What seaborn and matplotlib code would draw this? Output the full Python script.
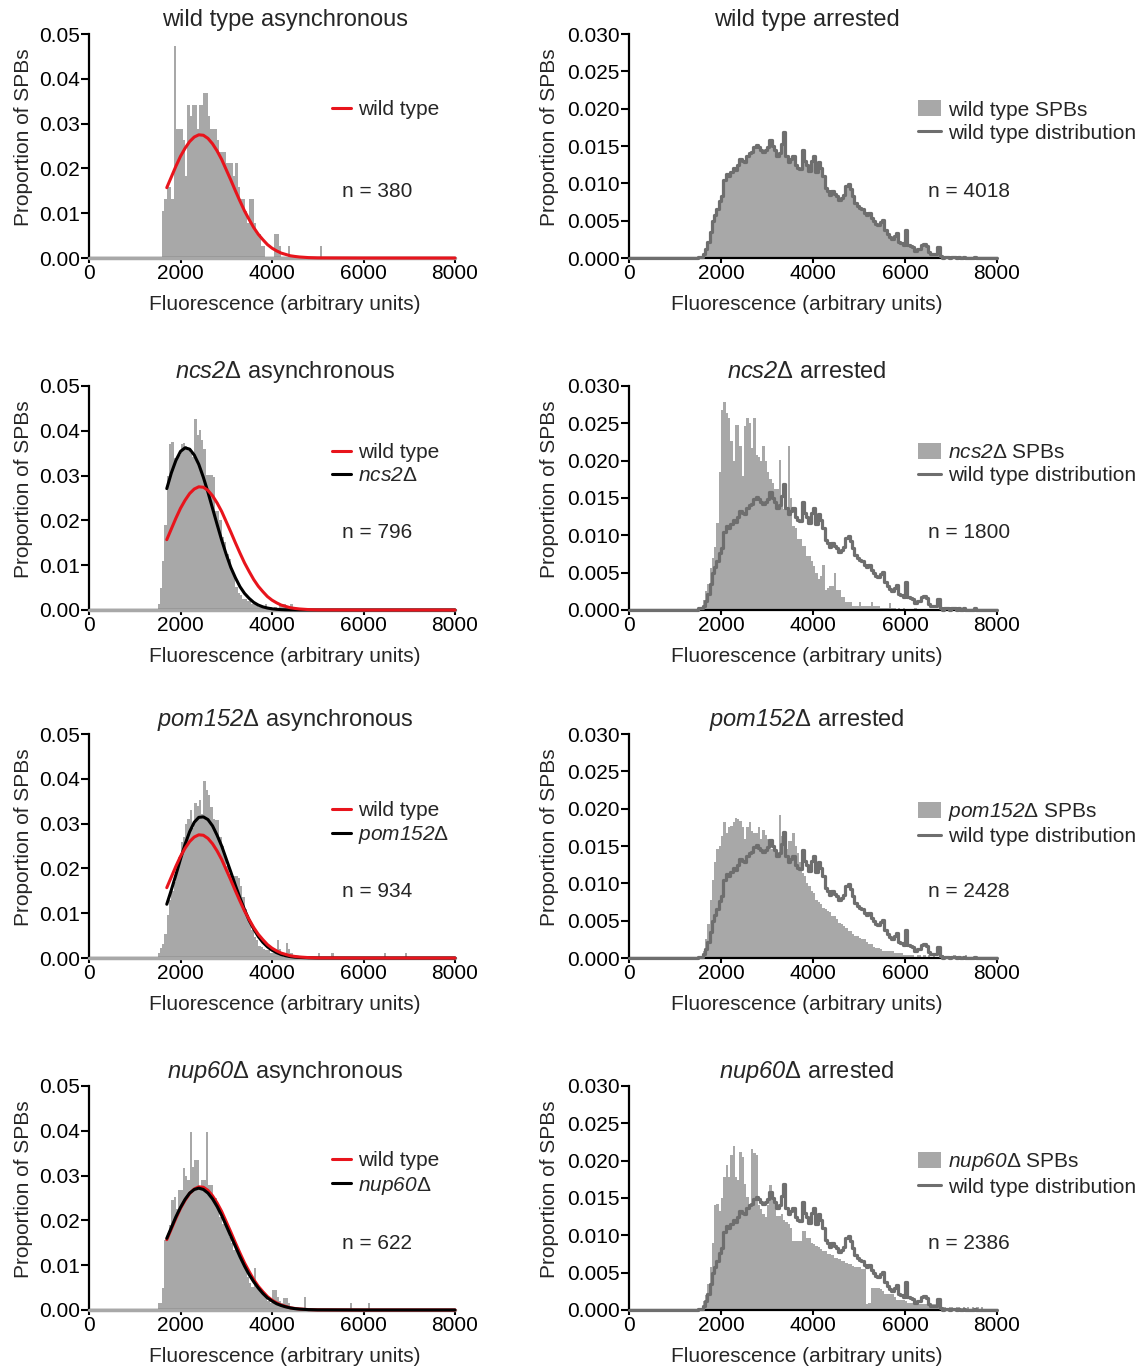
import numpy as np
import pandas as pd
import matplotlib
matplotlib.use("Agg")
import matplotlib.pyplot as plt
import matplotlib.ticker as mticker
from matplotlib.lines import Line2D
from matplotlib.patches import Patch
import seaborn as sns

# ─── data ─────────────────────────────────────────────────────────────────────
BIN_W = 50
HIST_START = 1500          # first bin of every stored histogram list

STRAINS = ["wild type", "ncs2", "pom152", "nup60"]
N_ASYNC = [380, 796, 934, 622]
N_ARREST = [4018, 1800, 2428, 2386]

# asynchronous histograms, bins 1500..4450 (proportion of SPBs per bin)
WT_ASYNC = [
    0, 0, .0105, .0132, .0158, .0158, .0132, .0474, .0289, .0289,
    .0289, .0263, .0184, .0342, .0316, .0342, .0342, .0289, .0342, .0342,
    .0368, .0368, .0316, .0289, .0289, .0289, .0263, .0237, .0237, .0237,
    .0211, .0211, .0211, .0184, .0211, .0158, .0132, .0132, .0105, .0079,
    .0132, .0132, .0079, .0053, .0053, .0026, .0026, 0, 0, 0,
    0, .0053, .0053, .0026, 0, 0, 0, .0026, 0, 0,
]
NCS2_ASYNC = [
    .0013, .0050, .0110, .0190, .0300, .0370, .0376, .0340, .0335, .0345,
    .0370, .0372, .0365, .0357, .0350, .0342, .0426, .0390, .0402, .0380,
    .0360, .0302, .0302, .0302, .0296, .0220, .0220, .0201, .0164, .0151,
    .0126, .0113, .0088, .0075, .0052, .0038, .0033, .0025, .0025, .0019,
    .0019, .0013, .0013, .0013, .0006, .0006, .0006, .0013, .0006, .0006,
    0, .0006, 0, .0013, .0013, .0013, .0006, 0, .0013, 0,
]
POM152_ASYNC = [
    .0011, .0022, .0032, .0054, .0096, .0130, .0150, .0170, .0189, .0225,
    .0260, .0270, .0300, .0310, .0330, .0290, .0345, .0340, .0353, .0321,
    .0394, .0375, .0364, .0338, .0310, .0308, .0308, .0270, .0250, .0226,
    .0205, .0188, .0174, .0182, .0182, .0178, .0160, .0137, .0110, .0096,
    .0080, .0063, .0048, .0040, .0027, .0025, .0021, .0018, .0018, .0011,
    .0011, .0011, .0040, .0021, .0011, 0, .0034, .0021, .0011, 0,
]
NUP60_ASYNC = [
    .0016, .0016, .0048, .0156, .0164, .0190, .0245, .0253, .0225, .0268,
    .0268, .0316, .0300, .0290, .0398, .0320, .0335, .0335, .0275, .0290,
    .0290, .0398, .0280, .0280, .0250, .0250, .0230, .0208, .0193, .0193,
    .0190, .0164, .0150, .0134, .0138, .0130, .0126, .0104, .0090, .0074,
    .0060, .0052, .0093, .0060, .0045, .0045, .0040, .0033, .0020, .0016,
    .0045, .0045, .0030, .0020, .0016, .0026, .0026, .0016, 0, 0,
]
# isolated outlier bins further right: (bin start, proportion)
WT_ASYNC_TAIL = [(5050, .0026)]
NCS2_ASYNC_TAIL = []
POM152_ASYNC_TAIL = [(5000, .0011), (5300, .0011), (6450, .0011), (6900, .0011)]
NUP60_ASYNC_TAIL = [(4700, .0030), (5700, .0016), (6100, .0016)]

# arrested histograms, bins 1500..7950
WT_ARREST = [
    .0002, .0002, .0006, .0012, .0021, .0035, .0049, .0058, .0065, .0076,
    .0083, .0105, .0112, .0110, .0115, .0120, .0118, .0124, .0133, .0130,
    .0128, .0137, .0140, .0142, .0149, .0151, .0148, .0144, .0142, .0145,
    .0149, .0158, .0150, .0144, .0137, .0140, .0153, .0169, .0137, .0128,
    .0132, .0137, .0124, .0121, .0119, .0144, .0130, .0124, .0117, .0130,
    .0137, .0115, .0128, .0120, .0110, .0094, .0090, .0085, .0090, .0086,
    .0083, .0078, .0080, .0085, .0096, .0099, .0092, .0083, .0074, .0070,
    .0067, .0065, .0060, .0058, .0060, .0053, .0050, .0046, .0044, .0048,
    .0051, .0037, .0032, .0028, .0026, .0030, .0033, .0021, .0020, .0018,
    .0037, .0017, .0016, .0015, .0010, .0012, .0012, .0017, .0019, .0016,
    .0008, .0005, .0005, .0005, .0015, .0003, 0, .0002, .0002, 0,
    .0002, .0002, 0, .0002, 0, .0002, 0, 0, 0, 0,
    .0002, 0, 0, 0, 0, 0, 0, 0, 0, 0,
]
NCS2_ARREST = [
    .0002, .0002, .0014, .0025, .0035, .0056, .0070, .0085, .0117, .0185,
    .0268, .0279, .0264, .0257, .0226, .0200, .0248, .0248, .0219, .0180,
    .0246, .0257, .0250, .0217, .0257, .0208, .0205, .0199, .0219, .0200,
    .0185, .0176, .0170, .0162, .0162, .0201, .0150, .0135, .0135, .0219,
    .0150, .0113, .0110, .0095, .0095, .0086, .0086, .0072, .0072, .0065,
    .0059, .0050, .0041, .0045, .0060, .0027, .0030, .0032, .0032, .0050,
    .0027, .0027, .0018, .0018, .0011, .0011, .0011, .0006, .0006, .0006,
    .0011, .0006, .0006, .0006, .0006, .0011, .0006, .0006, .0006, .0003,
    .0003, .0003, .0003, .0009, .0003, .0003, 0, .0003, 0, .0003,
    0, 0, 0, 0, .0003, 0, 0, 0, 0, 0,
    0, 0, 0, 0, 0, 0, 0, 0, 0, 0,
    0, 0, 0, 0, 0, 0, 0, 0, 0, 0,
    0, 0, 0, 0, 0, 0, 0, 0, 0, 0,
]
POM152_ARREST = [
    .0002, .0002, .0010, .0025, .0045, .0078, .0105, .0128, .0146, .0150,
    .0164, .0182, .0168, .0175, .0177, .0182, .0188, .0186, .0184, .0175,
    .0159, .0175, .0182, .0170, .0168, .0168, .0175, .0159, .0172, .0165,
    .0159, .0146, .0146, .0146, .0137, .0191, .0164, .0160, .0146, .0157,
    .0157, .0168, .0150, .0140, .0128, .0114, .0110, .0101, .0096, .0090,
    .0087, .0078, .0075, .0072, .0067, .0065, .0063, .0061, .0056, .0056,
    .0052, .0047, .0045, .0043, .0040, .0036, .0036, .0032, .0029, .0029,
    .0027, .0025, .0025, .0021, .0019, .0019, .0015, .0013, .0013, .0012,
    .0010, .0009, .0009, .0009, .0009, .0007, .0007, .0007, .0007, .0004,
    .0004, .0004, .0004, .0004, 0, .0004, .0004, 0, .0004, 0,
    .0004, 0, .0004, 0, 0, 0, .0004, 0, 0, 0,
    0, .0004, 0, 0, 0, 0, .0004, 0, 0, 0,
    0, 0, 0, 0, 0, 0, 0, 0, 0, 0,
]
NUP60_ARREST = [
    .0002, .0002, .0012, .0020, .0035, .0057, .0090, .0140, .0142, .0133,
    .0150, .0178, .0194, .0178, .0207, .0220, .0178, .0174, .0212, .0205,
    .0169, .0151, .0142, .0216, .0210, .0207, .0140, .0135, .0129, .0124,
    .0140, .0167, .0150, .0147, .0126, .0126, .0129, .0120, .0118, .0115,
    .0110, .0093, .0093, .0093, .0093, .0106, .0106, .0097, .0097, .0090,
    .0088, .0086, .0084, .0082, .0079, .0079, .0075, .0075, .0073, .0070,
    .0070, .0068, .0066, .0066, .0063, .0061, .0061, .0059, .0057, .0057,
    .0057, .0055, .0055, .0008, .0010, .0030, .0030, .0030, .0030, .0028,
    .0025, .0021, .0021, .0021, .0021, .0018, .0014, .0014, .0014, .0014,
    .0012, .0010, .0010, .0010, .0010, .0010, .0008, .0008, .0008, .0008,
    .0008, .0008, .0008, .0008, .0008, .0004, .0004, .0004, 0, .0004,
    .0004, 0, .0004, .0004, 0, .0004, 0, .0004, 0, .0004,
    0, .0004, 0, .0004, 0, 0, 0, 0, 0, 0,
]

# fitted normal curves, sampled along the fluorescence axis
FIT_X = [1700, 1800, 1900, 2000, 2100, 2200, 2300, 2400, 2500, 2600,
         2700, 2800, 2900, 3000, 3100, 3200, 3300, 3400, 3500, 3600,
         3700, 3800, 3900, 4000, 4100, 4200, 4300, 4400, 4500, 4600,
         4800, 5000, 6000, 8000]
FIT_WT = [.0157, .0181, .0205, .0227, .0245, .0260, .0270, .0275, .0274, .0267,
          .0255, .0239, .0220, .0197, .0174, .0150, .0127, .0105, .0086, .0068,
          .0053, .0041, .0030, .0022, .0016, .0011, .0008, .0005, .00035, .00023,
          .00009, .00003, 0, 0]
FIT_NCS2 = [.0271, .0306, .0334, .0354, .0362, .0359, .0346, .0325, .0296, .0263,
            .0227, .0191, .0156, .0124, .0095, .0072, .0052, .0037, .0026, .0017,
            .0011, .0007, .00044, .00026, .00015, .00008, .00004, .00002, .00001, 0,
            0, 0, 0, 0]
FIT_POM152 = [.0120, .0152, .0186, .0221, .0254, .0282, .0303, .0314, .0315, .0309,
              .0295, .0274, .0250, .0221, .0192, .0162, .0134, .0108, .0084, .0065,
              .0048, .0035, .0025, .00175, .0012, .00078, .0005, .00031, .00019, .00012,
              .00005, .00001, 0, 0]
FIT_NUP60 = [.0160, .0184, .0208, .0229, .0247, .0261, .0269, .0272, .0269, .0261,
             .0248, .0231, .0211, .0188, .0165, .0142, .0119, .0098, .0079, .0063,
             .0049, .0037, .0027, .0020, .0014, .0010, .0007, .00046, .0003, .0002,
             .00008, .00003, 0, 0]

# ─── style ────────────────────────────────────────────────────────────────────
HIST = "#a8a8a8"
DIST = "#6e6e6e"
RED = "#e8141c"
BLACK = "#000000"
FS = 15

sns.set_style("ticks")
plt.rcParams["font.family"] = ["Liberation Sans", "DejaVu Sans"]
plt.rcParams["mathtext.fontset"] = "custom"
plt.rcParams["mathtext.rm"] = "Liberation Sans"
plt.rcParams["mathtext.it"] = "Liberation Sans:italic"
# \mathsf is used for gene names so the digits get slanted too
plt.rcParams["mathtext.sf"] = "Liberation Sans:italic"

BIN_KW = dict(binwidth=BIN_W, binrange=(0, 8000), stat="count")

# layout: row bottoms (fig fraction), legend / n-label heights (axes fraction)
ROW_BOTTOM = [0.8114, 0.5541, 0.2997, 0.0424]
AX_H = 224 / 1368
LEFT_X, LEFT_W = 89 / 1143, 366 / 1143
RIGHT_X, RIGHT_W = 629 / 1143, 368 / 1143
LEG_Y_LEFT = [0.661, 0.652, 0.600, 0.607]
LEG_Y_RIGHT = [0.609, 0.652, 0.600, 0.607]
N_Y = [0.295, 0.344, 0.295, 0.299]


def hist_frame(heights, tail=()):
    x = HIST_START + BIN_W * (np.arange(len(heights)) + 0.5)
    w = np.asarray(heights, dtype=float)
    if tail:
        tx, tw = zip(*tail)
        x = np.concatenate([x, np.asarray(tx, dtype=float) + BIN_W / 2])
        w = np.concatenate([w, np.asarray(tw, dtype=float)])
    # one empty sample at each end so the bins always span the whole axis
    x = np.concatenate([[BIN_W / 2], x, [8000 - BIN_W / 2]])
    w = np.concatenate([[0.0], w, [0.0]])
    return pd.DataFrame({"x": x, "w": w})


def strain_label(name, suffix=""):
    if name == "wild type":
        return name + suffix
    return f"$\\mathsf{{{name}}}$\u0394" + suffix


def style_axes(ax, yticks, fmt, title, title_x):
    ax.set_xlim(0, 8000)
    ax.set_ylim(0, yticks[-1])
    ax.set_xticks([0, 2000, 4000, 6000, 8000])
    ax.set_yticks(yticks)
    ax.yaxis.set_major_formatter(mticker.FormatStrFormatter(fmt))
    sns.despine(ax=ax)
    for side in ("left", "bottom"):
        ax.spines[side].set_linewidth(1.6)
        ax.spines[side].set_color("black")
    ax.tick_params(axis="y", length=5.5, width=1.5, pad=1, labelsize=FS, colors="black")
    ax.tick_params(axis="x", length=3.5, width=1.5, pad=0.5, labelsize=FS, colors="black")
    ax.set_xlabel("Fluorescence (arbitrary units)", fontsize=FS)
    ax.set_ylabel("Proportion of SPBs", fontsize=FS)
    ax.xaxis.set_label_coords(title_x, -0.165)
    ax.set_title(title, fontsize=17, x=title_x, y=1.034, pad=0)


fig = plt.figure(figsize=(11.43, 13.68), dpi=100)

async_hists = [(WT_ASYNC, WT_ASYNC_TAIL), (NCS2_ASYNC, NCS2_ASYNC_TAIL),
               (POM152_ASYNC, POM152_ASYNC_TAIL), (NUP60_ASYNC, NUP60_ASYNC_TAIL)]
async_fits = [None, FIT_NCS2, FIT_POM152, FIT_NUP60]
arrest_hists = [WT_ARREST, NCS2_ARREST, POM152_ARREST, NUP60_ARREST]
wt_dist = hist_frame(WT_ARREST)

for i, strain in enumerate(STRAINS):
    # ── asynchronous: histogram + gaussian fits ──
    ax = fig.add_axes([LEFT_X, ROW_BOTTOM[i], LEFT_W, AX_H])
    sns.histplot(data=hist_frame(*async_hists[i]), x="x", weights="w", **BIN_KW,
                 element="bars", fill=True, color=HIST, alpha=1,
                 linewidth=0, edgecolor="none", ax=ax)
    ax.axhline(0, color=HIST, linewidth=2.5, zorder=2.6, clip_on=False)

    red_on_top = i != 3
    sns.lineplot(x=FIT_X, y=FIT_WT, color=RED, linewidth=2.2, ax=ax,
                 zorder=4 if red_on_top else 3, clip_on=False)
    handles = [Line2D([], [], color=RED, linewidth=2.2)]
    labels = ["wild type"]
    if async_fits[i] is not None:
        sns.lineplot(x=FIT_X, y=async_fits[i], color=BLACK, linewidth=2.2, ax=ax,
                     zorder=3 if red_on_top else 4, clip_on=False)
        handles.append(Line2D([], [], color=BLACK, linewidth=2.2))
        labels.append(strain_label(strain))

    style_axes(ax, [0, 0.01, 0.02, 0.03, 0.04, 0.05], "%.2f",
               strain_label(strain, " asynchronous"), 0.535)
    ax.yaxis.set_label_coords(-0.152, 0.54)
    ax.legend(handles, labels, loc="center left", bbox_to_anchor=(0.664, LEG_Y_LEFT[i]),
              frameon=False, borderpad=0, borderaxespad=0, fontsize=FS,
              handlelength=0.9, handletextpad=0.35, labelspacing=0.2)
    ax.text(0.691, N_Y[i], f"n = {N_ASYNC[i]}", transform=ax.transAxes,
            ha="left", va="center", fontsize=FS)

    # ── arrested: histogram + wild type distribution outline ──
    ax = fig.add_axes([RIGHT_X, ROW_BOTTOM[i], RIGHT_W, AX_H])
    sns.histplot(data=hist_frame(arrest_hists[i]), x="x", weights="w", **BIN_KW,
                 element="bars", fill=True, color=HIST, alpha=1,
                 linewidth=0, edgecolor="none", ax=ax)
    n_lines = len(ax.lines)
    sns.histplot(data=wt_dist, x="x", weights="w", **BIN_KW,
                 element="step", fill=False, color=DIST, linewidth=2.3, ax=ax)
    for ln in ax.lines[n_lines:]:
        ln.set_zorder(3)
        ln.set_clip_on(False)

    style_axes(ax, [0, 0.005, 0.010, 0.015, 0.020, 0.025, 0.030], "%.3f",
               strain_label(strain, " arrested"), 0.484)
    ax.yaxis.set_label_coords(-0.19, 0.54)
    handles = [Patch(facecolor=HIST, edgecolor="none"),
               Line2D([], [], color=DIST, linewidth=2.2)]
    labels = [strain_label(strain, " SPBs"), "wild type distribution"]
    ax.legend(handles, labels, loc="center left", bbox_to_anchor=(0.785, LEG_Y_RIGHT[i]),
              frameon=False, borderpad=0, borderaxespad=0, fontsize=FS,
              handlelength=1.1, handleheight=0.8, handletextpad=0.35, labelspacing=0.2)
    ax.text(0.8125, N_Y[i], f"n = {N_ARREST[i]}", transform=ax.transAxes,
            ha="left", va="center", fontsize=FS)

fig.savefig("out.png", dpi=100)
